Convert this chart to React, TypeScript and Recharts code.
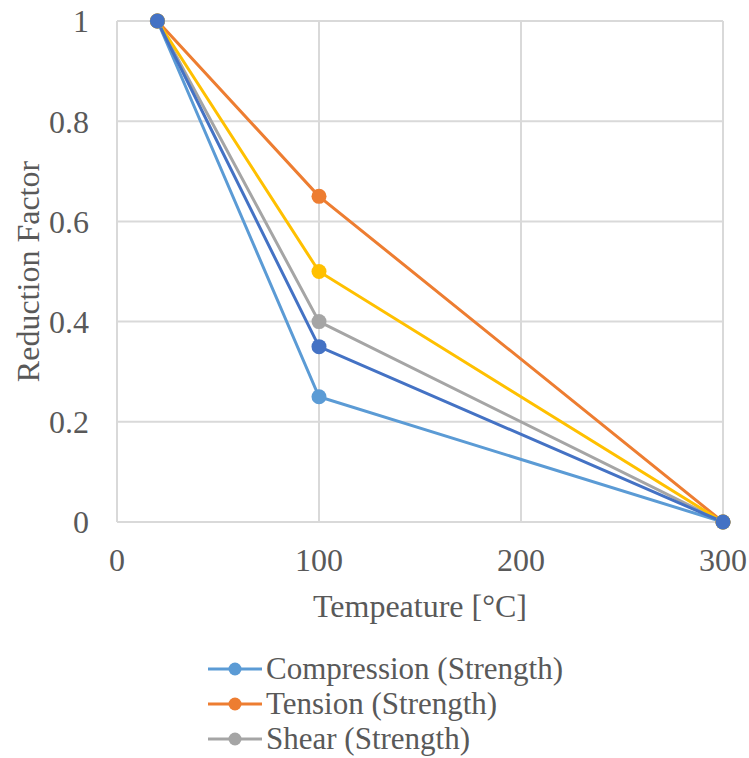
import React from "react";
import {
  LineChart,
  Line,
  XAxis,
  YAxis,
  CartesianGrid,
  Legend,
} from "recharts";

const temperature = [20, 100, 300];
const compression = [1, 0.25, 0];
const tension = [1, 0.65, 0];
const shear = [1, 0.4, 0];
const series4 = [1, 0.5, 0];
const series5 = [1, 0.35, 0];

const xTicks = [0, 100, 200, 300];
const yTicks = [0, 0.2, 0.4, 0.6, 0.8, 1];

// legend only shows the first three series (the rest is cut off in the original)
const legendNames = ["Compression (Strength)", "Tension (Strength)", "Shear (Strength)"];
const legendColors = ["#5B9BD5", "#ED7D31", "#A5A5A5"];

const data = temperature.map((t, i) => ({
  t,
  compression: compression[i],
  tension: tension[i],
  shear: shear[i],
  series4: series4[i],
  series5: series5[i],
}));

const FONT = '"Liberation Serif", Tinos, "Noto Serif", "DejaVu Serif", serif';
const TEXT = "#595959";
const GRID = "#d9d9d9";

const renderLegend = () => (
  <div style={{ fontFamily: FONT, fontSize: 31, color: TEXT }}>
    {legendNames.map((name, i) => (
      <div key={name} style={{ display: "flex", alignItems: "center", height: 35 }}>
        <svg width={54} height={20} style={{ marginRight: 4 }}>
          <line x1={0} y1={10} x2={54} y2={10} stroke={legendColors[i]} strokeWidth={3} />
          <circle cx={27} cy={10} r={6.5} fill={legendColors[i]} />
        </svg>
        <span style={{ lineHeight: "35px", whiteSpace: "nowrap" }}>{name}</span>
      </div>
    ))}
  </div>
);

export default function App() {
  const dot = (c: string) => ({ r: 7.5, fill: c, stroke: c, strokeWidth: 0 });
  return (
    <div style={{ position: "absolute", left: 0, top: 0, fontFamily: FONT }}>
      <LineChart
        width={749}
        height={758}
        data={data}
        margin={{ top: 21, right: 26, left: 0, bottom: 136 }}
      >
        <CartesianGrid stroke={GRID} strokeWidth={2} />
        <XAxis
          dataKey="t"
          type="number"
          domain={[0, 300]}
          ticks={xTicks}
          height={100}
          tickSize={0}
          tickMargin={26}
          axisLine={{ stroke: GRID, strokeWidth: 2 }}
          tick={{ fill: TEXT, fontSize: 32, fontFamily: FONT }}
          label={{
            value: "Tempeature [°C]",
            position: "insideBottom",
            offset: 5,
            fill: TEXT,
            fontSize: 32,
            fontFamily: FONT,
          }}
        />
        <YAxis
          type="number"
          domain={[0, 1]}
          ticks={yTicks}
          width={117}
          tickSize={0}
          tickMargin={28}
          axisLine={false}
          tick={{ fill: TEXT, fontSize: 32, fontFamily: FONT }}
          label={{
            value: "Reduction Factor",
            angle: -90,
            position: "insideLeft",
            offset: 28,
            fill: TEXT,
            fontSize: 32,
            fontFamily: FONT,
            style: { textAnchor: "middle" },
          }}
        />
        <Legend
          layout="vertical"
          align="center"
          verticalAlign="middle"
          content={renderLegend}
          wrapperStyle={{ left: 208, top: 651, width: "auto" }}
        />
        <Line
          dataKey="compression"
          name="Compression (Strength)"
          stroke="#5B9BD5"
          strokeWidth={3}
          dot={dot("#5B9BD5")}
          isAnimationActive={false}
        />
        <Line
          dataKey="tension"
          name="Tension (Strength)"
          stroke="#ED7D31"
          strokeWidth={3}
          dot={dot("#ED7D31")}
          isAnimationActive={false}
        />
        <Line
          dataKey="shear"
          name="Shear (Strength)"
          stroke="#A5A5A5"
          strokeWidth={3}
          dot={dot("#A5A5A5")}
          isAnimationActive={false}
        />
        <Line
          dataKey="series4"
          name="Series 4"
          stroke="#FFC000"
          strokeWidth={3}
          dot={dot("#FFC000")}
          legendType="none"
          isAnimationActive={false}
        />
        <Line
          dataKey="series5"
          name="Series 5"
          stroke="#4472C4"
          strokeWidth={3}
          dot={dot("#4472C4")}
          legendType="none"
          isAnimationActive={false}
        />
      </LineChart>
    </div>
  );
}
